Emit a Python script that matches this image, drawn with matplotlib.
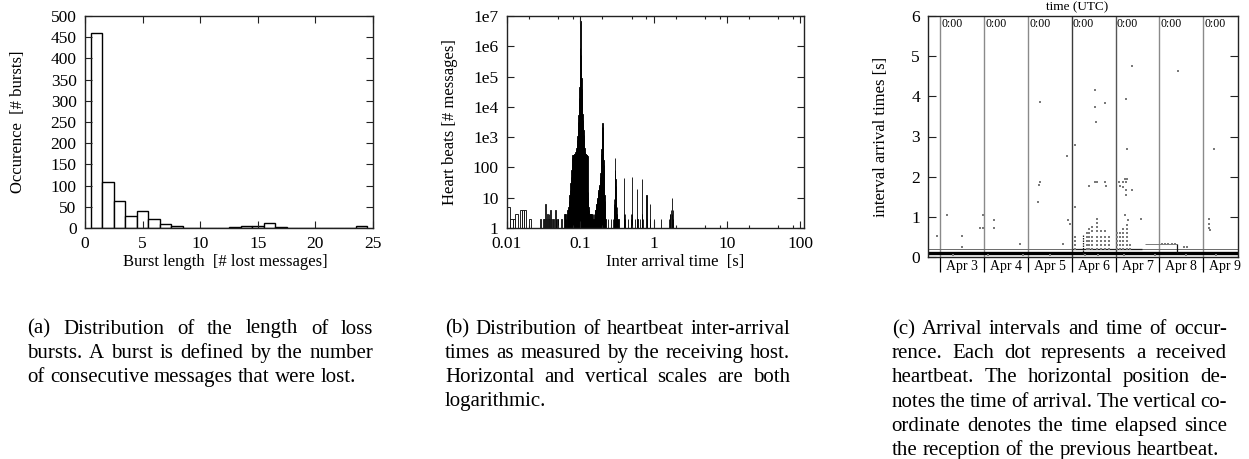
import matplotlib
matplotlib.use("Agg")
import matplotlib.pyplot as plt
from matplotlib.transforms import IdentityTransform
from matplotlib.ticker import NullLocator, FixedLocator

plt.rcParams['font.family'] = ['Liberation Serif', 'DejaVu Serif']

# ---------------- data: (a) burst length histogram ----------------
burst_len = [1, 2, 3, 4, 5, 6, 7, 8, 9, 10, 11, 12, 13, 14, 15, 16, 17, 18, 19, 20, 21, 22, 23, 24]
burst_count = [460, 109, 63, 28, 40, 22, 9, 4, 1, 1, 1, 0, 2, 4, 5, 12, 3, 1, 1, 1, 0, 1, 1, 4]

# ---------------- data: (b) inter-arrival histogram (1 ms bins) ----------------
# sparse bins below the main peak (bin start in ms, count)
early_ms = [10, 11, 12, 13, 14, 15, 16, 17, 18, 19, 20, 21, 22, 23, 24, 25, 26, 27, 28, 29,
            30, 31, 32, 33, 34, 35, 36, 37, 38, 39, 40, 41, 42, 43, 44, 45, 46, 47, 48, 49,
            50, 51, 52, 53, 54, 55, 56, 57, 58, 59]
early_count = [5, 2, 2, 3, 1, 4, 4, 4, 1, 1, 2, 1, 1, 1, 1, 1, 1, 1, 2, 1,
               1, 2, 2, 6, 2, 3, 2, 3, 2, 4, 2, 1, 2, 2, 1, 4, 2, 1, 2, 2,
               1, 1, 1, 1, 1, 2, 1, 1, 1, 1]
# main peak around 0.1 s (bins 60 .. 139 ms)
peak1_ms = list(range(60, 140))
peak1_count = [3, 2, 3, 2, 1, 3, 4, 4, 4, 5,
               8, 12, 18, 30, 50, 80, 130, 200, 250, 260,
               265, 270, 275, 280, 285, 300, 330, 380, 450, 580,
               780, 1100, 1800, 3200, 5500, 10000, 20000, 45000, 100000, 900000,
               7000000, 500000, 180000, 90000, 40000, 18000, 10000, 6000, 3800, 2500,
               1700, 1200, 900, 650, 450, 330, 290, 285, 280, 275,
               270, 265, 260, 255, 250, 240, 16, 10, 7, 5,
               4, 3, 2, 3, 1, 3, 2, 3, 1, 3]
# second peak around 0.2 s (bins 140 .. 221 ms)
peak2_ms = list(range(140, 222))
peak2_count = [3, 2, 3, 2, 1, 3, 2, 1, 3, 2,
               1, 1, 2, 1, 2, 3, 2, 3, 4, 4,
               4, 4, 4, 5, 5, 6, 6, 7, 7, 8,
               9, 10, 11, 12, 13, 14, 16, 18, 19, 21,
               23, 25, 27, 29, 32, 35, 40, 50, 65, 85,
               110, 150, 200, 280, 400, 560, 800, 1100, 1600, 2200,
               3000, 2200, 1500, 1000, 650, 420, 280, 180, 120, 80,
               56, 38, 26, 18, 12, 8, 6, 4, 3, 2,
               2, 1]
# later, sparser bins (ms, count)
late_ms = [228, 236, 244, 252, 260, 268, 275,
           282, 285, 288, 290, 292, 294, 296, 298, 300, 301, 302, 303, 305, 307,
           310, 313, 317, 321, 326, 332, 338, 350, 365, 380,
           395, 398, 400, 402, 405, 420, 440, 450, 460, 480,
           495, 498, 500, 502, 505, 520, 540, 550, 560, 580,
           595, 598, 600, 603, 620, 650, 680,
           695, 698, 700, 703, 707, 720, 750, 780,
           800, 803, 830, 860, 900, 904, 930, 960, 1000,
           1200, 1250, 1300, 1550, 1600, 1650, 1700, 1750, 1790, 1800, 1820, 1850, 1900,
           2400, 2500, 2800, 3000, 3300, 3500, 3800, 4100, 4500, 4800, 5200, 6000, 6500, 7500, 8000, 9500]
late_count = [1, 2, 1, 1, 2, 1, 1,
              2, 3, 4, 6, 9, 14, 25, 60, 200, 80, 40, 25, 15, 10,
              7, 5, 3, 3, 2, 2, 1, 1, 1, 1,
              2, 3, 45, 3, 2, 1, 1, 2, 1, 1,
              2, 3, 50, 3, 2, 1, 1, 2, 1, 1,
              2, 2, 20, 2, 1, 2, 1,
              2, 3, 40, 3, 2, 1, 1, 1,
              12, 2, 1, 1, 6, 2, 1, 1, 2,
              1, 2, 1, 1, 2, 3, 3, 4, 3, 10, 4, 2, 1,
              1, 1, 1, 1, 1, 1, 1, 1, 1, 1, 1, 1, 1, 1, 1, 1]

# ---------------- data: (c) arrival intervals over time ----------------
trace_start, trace_end = 2.733, 9.784          # day of April (UTC)
day_marks = [3, 4, 5, 6, 7, 8, 9]
month_labels = ['Apr 3', 'Apr 4', 'Apr 5', 'Apr 6', 'Apr 7', 'Apr 8', 'Apr 9']
band_level = [0.1, 0.2, 0.2, 0.33]
band_from = [2.733, 2.733, 6.0, 7.67]
band_to = [9.784, 9.784, 7.6, 8.40]
streak_day = [6.26, 8.40]
streak_lo = [0.08, 0.1]
streak_hi = [0.55, 0.33]
dot_day = [2.92, 3.15, 3.49, 3.49, 3.91, 3.99, 3.99, 4.23, 4.23, 4.82,
           5.24, 5.28, 5.28, 5.26, 5.81, 5.90, 5.92, 5.96, 6.08, 6.07,
           6.39, 6.54, 6.54, 6.55, 6.54, 6.57, 6.77, 6.77, 6.79, 7.07,
           7.11, 7.18, 7.18, 7.21, 7.24, 7.27, 7.24, 7.24, 7.37, 7.24,
           7.37, 7.27, 7.21, 7.28, 7.58, 8.43, 9.25, 9.14, 9.14, 9.14, 9.15,
           6.08, 6.08, 6.08, 6.08,
           6.34, 6.34, 6.34, 6.34, 6.34,
           6.40, 6.40, 6.40, 6.40, 6.40, 6.40,
           6.47, 6.47, 6.47, 6.47, 6.47, 6.47,
           6.57, 6.57, 6.57, 6.57, 6.57, 6.57, 6.57, 6.57,
           6.66, 6.66, 6.66, 6.66, 6.66,
           6.76, 6.76, 6.76, 6.76, 6.76,
           6.86, 6.86, 6.86, 6.86,
           7.04, 7.04, 7.04, 7.04, 7.04,
           7.10, 7.10, 7.10, 7.10, 7.10,
           7.18, 7.18, 7.18, 7.18, 7.18, 7.18,
           7.25, 7.25, 7.25, 7.25, 7.25, 7.25, 7.25,
           7.33, 7.33,
           8.05, 8.12, 8.20, 8.28, 8.36, 8.55, 8.62,
           3.3, 4.1, 4.9, 5.5, 6.3, 6.6, 7.2, 7.9, 8.6, 9.3]
dot_gap = [0.52, 1.04, 0.52, 0.24, 0.71, 0.71, 1.04, 0.93, 0.73, 0.32,
           1.37, 3.85, 1.87, 1.80, 0.33, 2.51, 0.93, 0.83, 2.78, 1.25,
           1.76, 4.15, 3.74, 3.35, 1.87, 1.87, 3.84, 1.87, 1.76, 1.87,
           1.76, 1.87, 1.75, 1.94, 1.87, 1.94, 1.66, 1.54, 1.66, 3.93,
           4.76, 2.70, 1.04, 0.93, 0.94, 4.63, 2.70, 0.94, 0.83, 0.72, 0.67,
           0.2, 0.3, 0.4, 0.5,
           0.2, 0.3, 0.4, 0.5, 0.6,
           0.2, 0.3, 0.4, 0.5, 0.6, 0.7,
           0.2, 0.3, 0.4, 0.5, 0.64, 0.75,
           0.2, 0.3, 0.4, 0.5, 0.64, 0.75, 0.85, 0.94,
           0.2, 0.3, 0.4, 0.5, 0.64,
           0.2, 0.3, 0.4, 0.5, 0.64,
           0.2, 0.3, 0.4, 0.5,
           0.2, 0.3, 0.4, 0.5, 0.6,
           0.2, 0.3, 0.4, 0.5, 0.6,
           0.2, 0.3, 0.4, 0.5, 0.6, 0.7,
           0.2, 0.3, 0.4, 0.5, 0.6, 0.7, 0.8,
           0.2, 0.3,
           0.33, 0.33, 0.33, 0.33, 0.33, 0.25, 0.25,
           0.04, 0.04, 0.04, 0.04, 0.04, 0.04, 0.04, 0.04, 0.04, 0.04]

captions = {
    'a': ["(a) Distribution of the length of loss",
          "bursts. A burst is defined by the number",
          "of consecutive messages that were lost."],
    'b': ["(b) Distribution of heartbeat inter-arrival",
          "times as measured by the receiving host.",
          "Horizontal and vertical scales are both",
          "logarithmic."],
    'c': ["(c) Arrival intervals and time of occur-",
          "rence. Each dot represents a received",
          "heartbeat. The horizontal position de-",
          "notes the time of arrival. The vertical co-",
          "ordinate denotes the time elapsed since",
          "the reception of the previous heartbeat."],
}

# ---------------- figure ----------------
W, H = 1249, 459
fig = plt.figure(figsize=(W / 100, H / 100), dpi=100)


def axes_px(l, t, r, b):
    return fig.add_axes([l / W, 1 - b / H, (r - l) / W, (b - t) / H])


def frame(ax):
    for s in ax.spines.values():
        s.set_linewidth(1.0)
        s.set_color('#222222')
    ax.tick_params(which='both', direction='in', top=True, right=True,
                   labelsize=12.5, pad=6, width=0.8, color='#222222')
    ax.tick_params(which='major', length=5)
    ax.tick_params(which='minor', length=2.5)


# ----- (a) -----
ax_a = axes_px(85, 16, 373, 228)
ax_a.bar(burst_len, burst_count, width=1.0, facecolor='white', edgecolor='black', linewidth=1.0)
ax_a.set_xlim(0, 25)
ax_a.set_ylim(0, 500)
ax_a.set_xticks([0, 5, 10, 15, 20, 25])
ax_a.set_yticks(range(0, 501, 50))
frame(ax_a)
ax_a.set_xlabel('Burst length  [# lost messages]', fontsize=12, va='center')
ax_a.xaxis.set_label_coords(0.486, -0.159)
ax_a.set_ylabel('Occurence  [# bursts]', fontsize=12, va='center')
ax_a.yaxis.set_label_coords(-0.233, 0.5)

# ----- (b) -----
ax_b = axes_px(507, 16, 804.3, 228)
# wide early boxes are drawn hollow, the dense narrow bins solid
ax_b.bar([m / 1000 for m in early_ms], [c - 1 for c in early_count], width=0.001, bottom=1,
         align='edge', facecolor='white', edgecolor='black', linewidth=0.6)
dense_ms = peak1_ms + peak2_ms + late_ms
dense_cnt = peak1_count + peak2_count + late_count
ax_b.bar([m / 1000 for m in dense_ms], [c - 1 for c in dense_cnt], width=0.001, bottom=1,
         align='edge', facecolor='black', edgecolor='black', linewidth=0.6)
ax_b.set_xscale('log')
ax_b.set_yscale('log')
ax_b.set_xlim(0.01, 114)
ax_b.set_ylim(1, 1e7)
ax_b.set_xticks([0.01, 0.1, 1, 10, 100], ['0.01', '0.1', '1', '10', '100'])
ax_b.xaxis.set_minor_locator(FixedLocator([k * 10.0 ** e for e in range(-2, 2) for k in (2, 5, 8)]))
ax_b.set_yticks([1, 10, 100, 1e3, 1e4, 1e5, 1e6, 1e7],
                ['1', '10', '100', '1e3', '1e4', '1e5', '1e6', '1e7'])
ax_b.yaxis.set_minor_locator(NullLocator())
frame(ax_b)
ax_b.set_xlabel('Inter arrival time  [s]', fontsize=12, va='center')
ax_b.xaxis.set_label_coords(0.564, -0.159)
ax_b.set_ylabel('Heart beats [# messages]', fontsize=12, va='center')
ax_b.yaxis.set_label_coords(-0.193, 0.5)

# ----- (c) -----
ax_c = axes_px(928.3, 16, 1237.7, 257)
ax_c.set_xlim(trace_start, trace_end)
ax_c.set_ylim(0, 6)
day_colors = ['#8a8a8a', '#8a8a8a', '#8a8a8a', '#3a3a3a', '#555555', '#8a8a8a', '#8a8a8a']
for d, col in zip(day_marks, day_colors):
    ax_c.axvline(d, color=col, linewidth=1.0, zorder=1)
    ax_c.text(d + 0.03, 0.99, '0:00', transform=ax_c.get_xaxis_transform(),
              fontsize=8.5, ha='left', va='top')
band_lw = [2.4, 0.7, 0.9, 0.7]
band_col = ['black', '#6a6a6a', '#222222', '#7a7a7a']
for lv, a, b, lw, col in zip(band_level, band_from, band_to, band_lw, band_col):
    ax_c.hlines(lv, a, b, color=col, linewidth=lw, zorder=2)
ax_c.vlines(streak_day, streak_lo, streak_hi, colors=['#222222', '#111111'],
            linestyles=[(0, (1.2, 0.8)), 'solid'], linewidth=0.9, zorder=3)
ax_c.scatter(dot_day, dot_gap, s=1.0, marker='s', color='#7a7a7a', linewidths=0, zorder=3)
ax_c.set_xticks([])
ax_c.set_yticks(range(0, 7))
frame(ax_c)
ax_c.tick_params(which='major', length=6)
ax_c.vlines(day_marks, -0.062, 0, transform=ax_c.get_xaxis_transform(),
            colors='black', linewidth=0.9, clip_on=False)
for d, lab in zip(day_marks, month_labels):
    ax_c.text(d + 0.5, -0.040, lab, transform=ax_c.get_xaxis_transform(),
              fontsize=10, ha='center', va='center')
ax_c.set_ylabel('interval arrival times [s]', fontsize=12, va='center')
ax_c.yaxis.set_label_coords((881 - 928.3) / 309.4, 0.499)
fig.text(1077 / W, 1 - 7.5 / H, 'time (UTC)', fontsize=9.5, ha='center', va='center')


# ----- justified captions -----
def justified(lines, x0, x1, y_first, dy, size):
    r = fig.canvas.get_renderer()
    tr = IdentityTransform()
    for i, line in enumerate(lines):
        words = line.split(' ')
        ts = [fig.text(0, 0, w, fontsize=size, transform=tr, ha='left', va='baseline') for w in words]
        ws = [t.get_window_extent(r).width for t in ts]
        if i == len(lines) - 1 or len(words) == 1:
            gap = size * 100 / 72 * 0.25
        else:
            gap = (x1 - x0 - sum(ws)) / (len(ws) - 1)
        x = x0
        y = H - (y_first + i * dy)
        for t, w in zip(ts, ws):
            t.set_position((x, y))
            x += w + gap


justified(captions['a'], 27.3, 373.3, 333.5, 24.2, 15)
justified(captions['b'], 445, 790, 333.5, 24.2, 15)
justified(captions['c'], 891.7, 1226.7, 334, 24.2, 15)

fig.savefig('out.png', dpi=100)
